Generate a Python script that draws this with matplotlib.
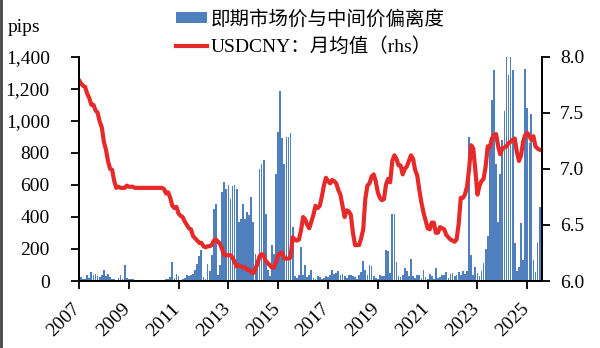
import matplotlib
matplotlib.use('Agg')
from matplotlib import pyplot as plt
import matplotlib.dates as mdates
import matplotlib.transforms as mtransforms
from matplotlib.lines import Line2D
from matplotlib.ticker import FuncFormatter, FormatStrFormatter
import numpy as np
import pandas as pd

START = '2007-01-01'

bar_label = '即期市场价与中间价偏离度'
line_label = 'USDCNY：月均值（rhs）'
unit_label = 'pips'
tick_years = [2007, 2009, 2011, 2013, 2015, 2017, 2019, 2021, 2023, 2025]

# spot vs central parity deviation (pips), monthly, one row per year
deviation = [
    35, 25, 10, 15, 35, 20, 56, 35, 46, 30, 25, 35,            # 2007
    71, 30, 45, 25, 15, 10, 5, 20, 35, 15, 98, 20,             # 2008
    15, 10, 12, 5, 8, 3, 5, 2, 0, 0, 2, 0,                     # 2009
    0, 0, 0, 0, 2, 5, 10, 15, 25, 120, 20, 46,                 # 2010
    30, 5, 10, 20, 35, 30, 35, 45, 67, 108, 154, 191,          # 2011
    25, 10, 108, 60, 160, 451, 478, 40, 100, 555, 617, 576,    # 2012
    597, 513, 590, 597, 576, 368, 389, 482, 389, 430, 410, 524,  # 2013
    368, 170, 130, 700, 732, 752, 420, 67, 30, 222, 170, 670,  # 2014
    930, 1183, 893, 727, 898, 898, 922, 336, 30, 20, 40, 212,  # 2015
    40, 98, 25, 40, 71, 20, 15, 30, 25, 10, 20, 30,            # 2016
    25, 40, 67, 45, 50, 60, 35, 45, 30, 20, 40, 35,            # 2017
    30, 25, 15, 40, 56, 125, 67, 40, 100, 95, 30, 20,          # 2018
    15, 40, 30, 30, 196, 190, 50, 420, 415, 120, 30, 25,       # 2019
    40, 78, 60, 30, 140, 30, 20, 35, 40, 20, 67, 25,           # 2020
    15, 45, 30, 10, 83, 20, 25, 40, 35, 56, 20, 45,            # 2021
    50, 30, 35, 56, 40, 62, 45, 60, 898, 160, 40, 87,          # 2022
    50, 30, 60, 110, 200, 280, 837, 1127, 1314, 731, 368, 667, # 2023
    881, 1062, 1450, 1283, 1500, 1314, 240, 60, 90, 360, 130, 1320,  # 2024
    1077, 860, 1040, 130, 58, 240, 460,                        # 2025
]

# USDCNY monthly average (rhs)
usdcny = [
    7.79, 7.76, 7.74, 7.73, 7.67, 7.63, 7.57, 7.57, 7.52, 7.50, 7.42, 7.37,
    7.24, 7.17, 7.07, 7.00, 6.99, 6.89, 6.83, 6.84, 6.83, 6.83, 6.83, 6.85,
    6.84, 6.84, 6.84, 6.83, 6.83, 6.83, 6.83, 6.83, 6.83, 6.83, 6.83, 6.83,
    6.83, 6.83, 6.83, 6.83, 6.83, 6.82, 6.78, 6.79, 6.74, 6.67, 6.65, 6.66,
    6.60, 6.58, 6.57, 6.53, 6.50, 6.47, 6.46, 6.40, 6.38, 6.36, 6.34, 6.34,
    6.31, 6.30, 6.31, 6.31, 6.32, 6.36, 6.37, 6.35, 6.33, 6.28, 6.23, 6.23,
    6.23, 6.23, 6.21, 6.17, 6.13, 6.14, 6.13, 6.12, 6.12, 6.10, 6.10, 6.08,
    6.07, 6.11, 6.15, 6.22, 6.24, 6.23, 6.18, 6.16, 6.14, 6.12, 6.12, 6.17,
    6.23, 6.25, 6.25, 6.20, 6.20, 6.20, 6.21, 6.39, 6.37, 6.36, 6.37, 6.45,
    6.57, 6.55, 6.50, 6.47, 6.53, 6.59, 6.67, 6.65, 6.67, 6.75, 6.85, 6.92,
    6.89, 6.87, 6.90, 6.89, 6.87, 6.81, 6.77, 6.67, 6.57, 6.63, 6.62, 6.59,
    6.43, 6.32, 6.32, 6.32, 6.38, 6.46, 6.73, 6.85, 6.87, 6.93, 6.95, 6.89,
    6.79, 6.74, 6.72, 6.73, 6.86, 6.91, 6.88, 7.07, 7.12, 7.09, 7.03, 7.03,
    6.95, 7.00, 7.02, 7.07, 7.12, 7.09, 6.99, 6.94, 6.81, 6.70, 6.61, 6.54,
    6.47, 6.46, 6.52, 6.52, 6.43, 6.43, 6.48, 6.47, 6.46, 6.41, 6.39, 6.37,
    6.36, 6.35, 6.37, 6.51, 6.74, 6.74, 6.77, 6.84, 7.00, 7.21, 7.18, 6.99,
    6.77, 6.85, 6.89, 6.91, 7.02, 7.20, 7.19, 7.27, 7.30, 7.31, 7.20, 7.13,
    7.18, 7.19, 7.20, 7.23, 7.24, 7.26, 7.27, 7.15, 7.07, 7.12, 7.24, 7.30,
    7.32, 7.29, 7.26, 7.29, 7.20, 7.18, 7.17,
]

BAR_COLOR = '#4F7FBD'
LINE_COLOR = '#E62A2A'


def main():
    plt.rcParams['font.family'] = ['Liberation Serif', 'Noto Sans CJK SC']
    plt.rcParams['font.size'] = 14

    months = pd.date_range(START, periods=len(usdcny), freq='MS')

    fig = plt.figure(figsize=(6, 3.48), dpi=100)
    ax = fig.add_axes([79 / 600, 1 - 281 / 348, 463 / 600, 224.4 / 348])
    ax2 = ax.twinx()

    ax.bar(months, deviation, width=26, color=BAR_COLOR, linewidth=0,
           label=bar_label)
    ax2.plot(months, usdcny, color=LINE_COLOR, lw=3, solid_joinstyle='round',
             label=line_label)

    ax.set_ylim(0, 1400)
    ax.set_yticks(np.arange(0, 1401, 200))
    ax.yaxis.set_major_formatter(FuncFormatter(lambda v, p: '{:,.0f}'.format(v)))
    ax2.set_ylim(6.0, 8.0)
    ax2.set_yticks(np.arange(6.0, 8.01, 0.5))
    ax2.yaxis.set_major_formatter(FormatStrFormatter('%.1f'))

    ax.set_xlim(pd.Timestamp('2007-01-01'), pd.Timestamp('2025-08-05'))
    ax.set_xticks([pd.Timestamp(year=y, month=1, day=1) for y in tick_years])
    ax.xaxis.set_major_formatter(mdates.DateFormatter('%Y'))

    for a in (ax, ax2):
        a.spines['top'].set_visible(False)
        for s in a.spines.values():
            s.set_linewidth(1.3)
    ax.tick_params(axis='y', direction='out', length=6, width=1.3, pad=15)
    ax2.tick_params(axis='y', direction='out', length=6, width=1.3, pad=7)
    ax.tick_params(axis='x', direction='out', length=6, width=1.3, pad=8)

    offset = mtransforms.ScaledTranslation(0.05, 0, fig.dpi_scale_trans)
    for lab in ax.get_xticklabels():
        lab.set_rotation(45)
        lab.set_ha('right')
        lab.set_transform(lab.get_transform() + offset)

    fig.text(8 / 600, 1 - 27 / 348, unit_label, ha='left', va='center')

    h1, l1 = ax.get_legend_handles_labels()
    h2, l2 = ax2.get_legend_handles_labels()
    fig.legend(h1 + h2, l1 + l2, loc='upper left',
               bbox_to_anchor=(176 / 600, 1 - 10 / 348), frameon=False,
               borderpad=0, borderaxespad=0, handlelength=1.6,
               handleheight=0.45, handletextpad=0.2, labelspacing=0.45,
               fontsize=14)

    fig.add_artist(Line2D([0.002, 0.002], [0, 1], color='#444444', lw=2,
                          transform=fig.transFigure))

    fig.savefig('out.png', dpi=100)


if __name__ == '__main__':
    main()
